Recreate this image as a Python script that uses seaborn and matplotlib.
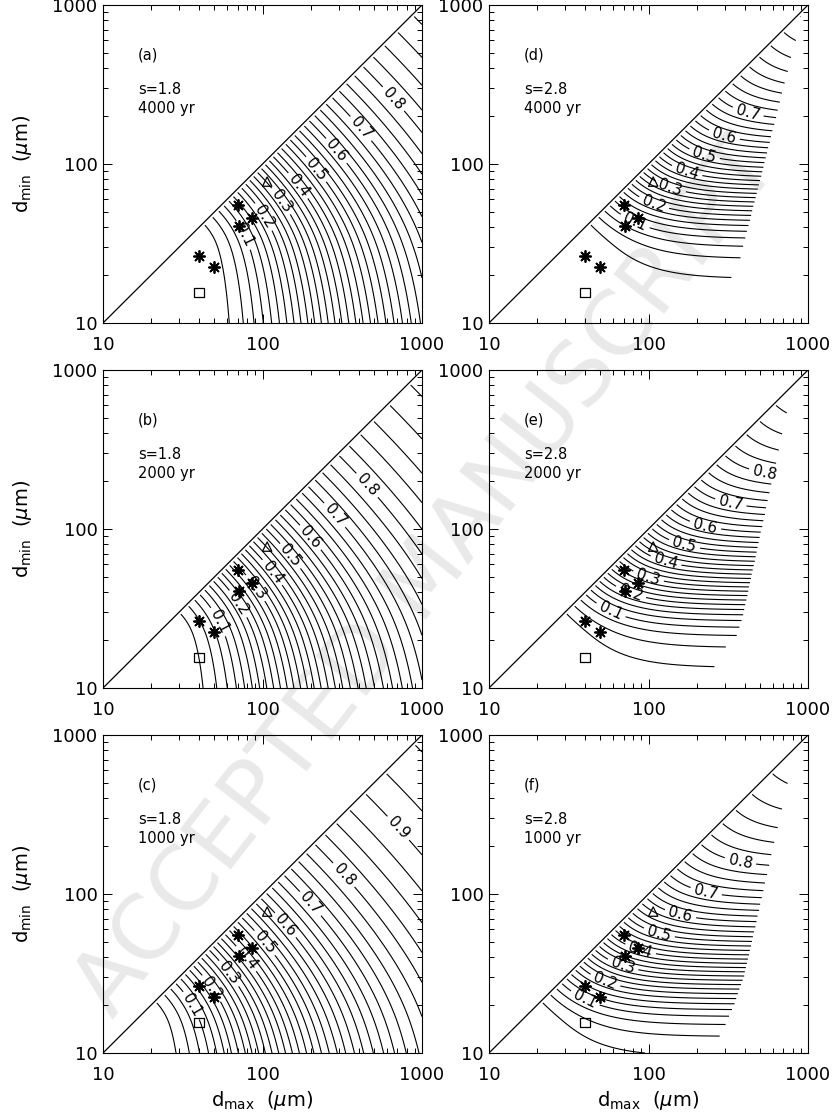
import numpy as np
import matplotlib
matplotlib.use("Agg")
import matplotlib.pyplot as plt
from matplotlib.ticker import FixedLocator, FixedFormatter, LogLocator, NullFormatter
import seaborn as sns

# ---------------- values ----------------
panel_tags = ["(a)", "(b)", "(c)", "(d)", "(e)", "(f)"]
slope_s = [1.8, 1.8, 1.8, 2.8, 2.8, 2.8]
age_yr = [4000, 2000, 1000, 4000, 2000, 1000]
eroded_um = [30.0, 21.2, 15.0, 30.0, 21.2, 15.0]

contour_levels = np.round(np.arange(1, 40) * 0.025, 3)
labelled_levels = [0.1, 0.2, 0.3, 0.4, 0.5, 0.6, 0.7, 0.8, 0.9]

star_dmax = [40.0, 50.0, 70.0, 71.5, 86.0]
star_dmin = [26.5, 22.6, 55.2, 40.7, 45.5]
square_dmax = [40.0]
square_dmin = [15.6]
triangle_dmax = [107.0]
triangle_dmin = [77.5]

# right-hand end of the computed region in the s = 2.8 panels
edge_d_dmin = [10.0, 17.9, 24.2, 804.0]
edge_d_dmax = [269.0, 321.0, 372.0, 904.0]
edge_e_dmin = [10.0, 16.9, 19.5, 27.5, 750.0]
edge_e_dmax = [240.0, 275.0, 347.0, 389.0, 794.0]
edge_f_dmin = [10.0, 11.9, 14.4, 20.4, 30.2, 724.0]
edge_f_dmax = [251.0, 269.0, 299.0, 347.0, 398.0, 813.0]

# where the first and last contour labels sit (dmax, dmin)
label_guide_start = [(83, 38.5), (53.7, 26.3), (39.4, 21.5), (85, 44.7), (64.6, 33.7), (42.7, 23.2)]
label_guide_end = [(646, 251), (447, 186), (684, 251), (417, 209), (531, 224), (372, 158)]

axis_range = [10, 1000]
major_ticks = [10, 100, 1000]
major_labels = ["10", "100", "1000"]

# ---------------- style ----------------
sns.set_theme(style="ticks", rc={
    "axes.edgecolor": "black", "text.color": "black", "axes.labelcolor": "black",
    "xtick.color": "black", "ytick.color": "black",
})
plt.rcParams["font.family"] = ["DejaVu Sans"]
plt.rcParams["mathtext.fontset"] = "dejavusans"


def pint(p, a, b):
    return (b ** (p + 1) - a ** (p + 1)) / (p + 1)


def surviving_fraction(dmin, dmax, s, delta):
    p = 5.0 - 3.0 * s
    den = pint(p, dmin, dmax)
    lo = np.maximum(dmin, delta)
    hi = np.maximum(dmax, lo)
    num = (pint(p, lo, hi) - 3 * delta * pint(p - 1, lo, hi)
           + 3 * delta ** 2 * pint(p - 2, lo, hi) - delta ** 3 * pint(p - 3, lo, hi))
    with np.errstate(divide="ignore", invalid="ignore"):
        return num / den


def get_segments(cs, i):
    try:
        return cs.allsegs[i]
    except Exception:
        path = cs.get_paths()[i]
        return [sp.vertices for sp in path._iter_connected_components()]


def label_points(cs, p0, p1):
    P0 = np.log10(np.array(p0, float))
    P1 = np.log10(np.array(p1, float))
    dv = P1 - P0
    L2 = dv @ dv
    pts = []
    for i in range(len(cs.levels)):
        found = None
        for seg in get_segments(cs, i):
            if len(seg) < 2:
                continue
            L = np.log10(seg)
            rel = L - P0
            cr = rel[:, 0] * dv[1] - rel[:, 1] * dv[0]
            sg = np.sign(cr)
            hits = np.where(sg[:-1] * sg[1:] < 0)[0]
            for j in hits:
                w = cr[j] / (cr[j] - cr[j + 1])
                q = L[j] + w * (L[j + 1] - L[j])
                t = ((q - P0) @ dv) / L2
                if -0.12 <= t <= 1.12:
                    found = tuple(10 ** q)
                    break
            if found is not None:
                break
        if found is not None:
            pts.append(found)
    return pts


fig = plt.figure(figsize=(8.35, 11.19), dpi=100)
W, H = 835.0, 1119.0
fig.text(428 / W, 1 - 578 / H, "ACCEPTED MANUSCRIPT", rotation=52, fontsize=64,
         color="#e9e9e9", ha="center", va="center", zorder=-10)

col_left = [103, 489]
row_top = [5, 370, 735]
aw, ah = 319, 318

grid = np.logspace(1, 3, 601)
DMAX, DMIN = np.meshgrid(grid, grid)
U = np.log10(DMAX) - 1
V = np.log10(DMIN) - 1
edges = [None, None, None, (edge_d_dmin, edge_d_dmax), (edge_e_dmin, edge_e_dmax), (edge_f_dmin, edge_f_dmax)]

is_lab = np.array([np.any(np.isclose(lv, labelled_levels)) for lv in contour_levels])
lev_lab = contour_levels[is_lab]
lev_plain = contour_levels[~is_lab]

for k in range(6):
    col, row = k // 3, k % 3
    ax = fig.add_axes([col_left[col] / W, 1 - (row_top[row] + ah) / H, aw / W, ah / H])
    ax.set_facecolor("none")
    ax.set_xscale("log")
    ax.set_yscale("log")
    ax.set_xlim(axis_range)
    ax.set_ylim(axis_range)

    F = surviving_fraction(DMIN, DMAX, slope_s[k], eroded_um[k])
    mask = (V > U - 0.022) | ~np.isfinite(F)
    if edges[k] is not None:
        emin, emax = edges[k]
        ub = np.interp(V, np.log10(emin) - 1, np.log10(emax) - 1)
        mask |= U > ub
    Fm = np.ma.masked_where(mask, F)
    ax.contour(DMAX, DMIN, Fm, levels=lev_plain, colors="black", linewidths=0.8)
    cs = ax.contour(DMAX, DMIN, Fm, levels=lev_lab, colors="black", linewidths=0.8)

    pts = label_points(cs, label_guide_start[k], label_guide_end[k])
    if pts:
        ax.clabel(cs, manual=pts, inline=True, inline_spacing=4, fontsize=11, fmt="%.1f")

    sns.lineplot(x=axis_range, y=axis_range, color="black", linewidth=0.9, ax=ax)
    sns.scatterplot(x=star_dmax, y=star_dmin, marker=(8, 2, 0), s=64, color="black",
                    linewidth=1.3, ax=ax, zorder=5)
    sns.scatterplot(x=square_dmax, y=square_dmin, marker="s", s=44, facecolor="none",
                    edgecolor="black", linewidth=0.9, ax=ax, zorder=5)
    sns.scatterplot(x=triangle_dmax, y=triangle_dmin, marker="^", s=45, facecolor="none",
                    edgecolor="black", linewidth=0.9, ax=ax, zorder=5)

    ax.set_xlim(axis_range)
    ax.set_ylim(axis_range)
    for axis in (ax.xaxis, ax.yaxis):
        axis.set_major_locator(FixedLocator(major_ticks))
        axis.set_major_formatter(FixedFormatter(major_labels))
        axis.set_minor_locator(LogLocator(base=10, subs=np.arange(2, 10)))
        axis.set_minor_formatter(NullFormatter())
    ax.tick_params(which="both", direction="in", top=True, right=True, width=0.7)
    ax.tick_params(which="major", length=6.5)
    ax.tick_params(which="minor", length=3.5)
    ax.tick_params(axis="x", which="major", labelsize=13, pad=9.5)
    ax.tick_params(axis="y", which="major", labelsize=13, pad=4)
    for sp in ax.spines.values():
        sp.set_linewidth(0.8)
        sp.set_color("black")

    ax.text(0.11, 0.843, panel_tags[k], transform=ax.transAxes, fontsize=10.5, va="center")
    ax.text(0.11, 0.733, f"s={slope_s[k]}", transform=ax.transAxes, fontsize=10.5, va="center")
    ax.text(0.11, 0.676, f"{age_yr[k]} yr", transform=ax.transAxes, fontsize=10.5, va="center")

    ax.set_xlabel("")
    ax.set_ylabel("")
    if col == 0:
        ax.set_ylabel("d$_{\\mathregular{min}}$  ($\\mu$m)", fontsize=14)
        ax.yaxis.set_label_coords(-0.215, 0.5)
    if row == 2:
        ax.set_xlabel("d$_{\\mathregular{max}}$  ($\\mu$m)", fontsize=14)
        ax.xaxis.set_label_coords(0.5, -0.112)

fig.savefig("out.png", dpi=100)
